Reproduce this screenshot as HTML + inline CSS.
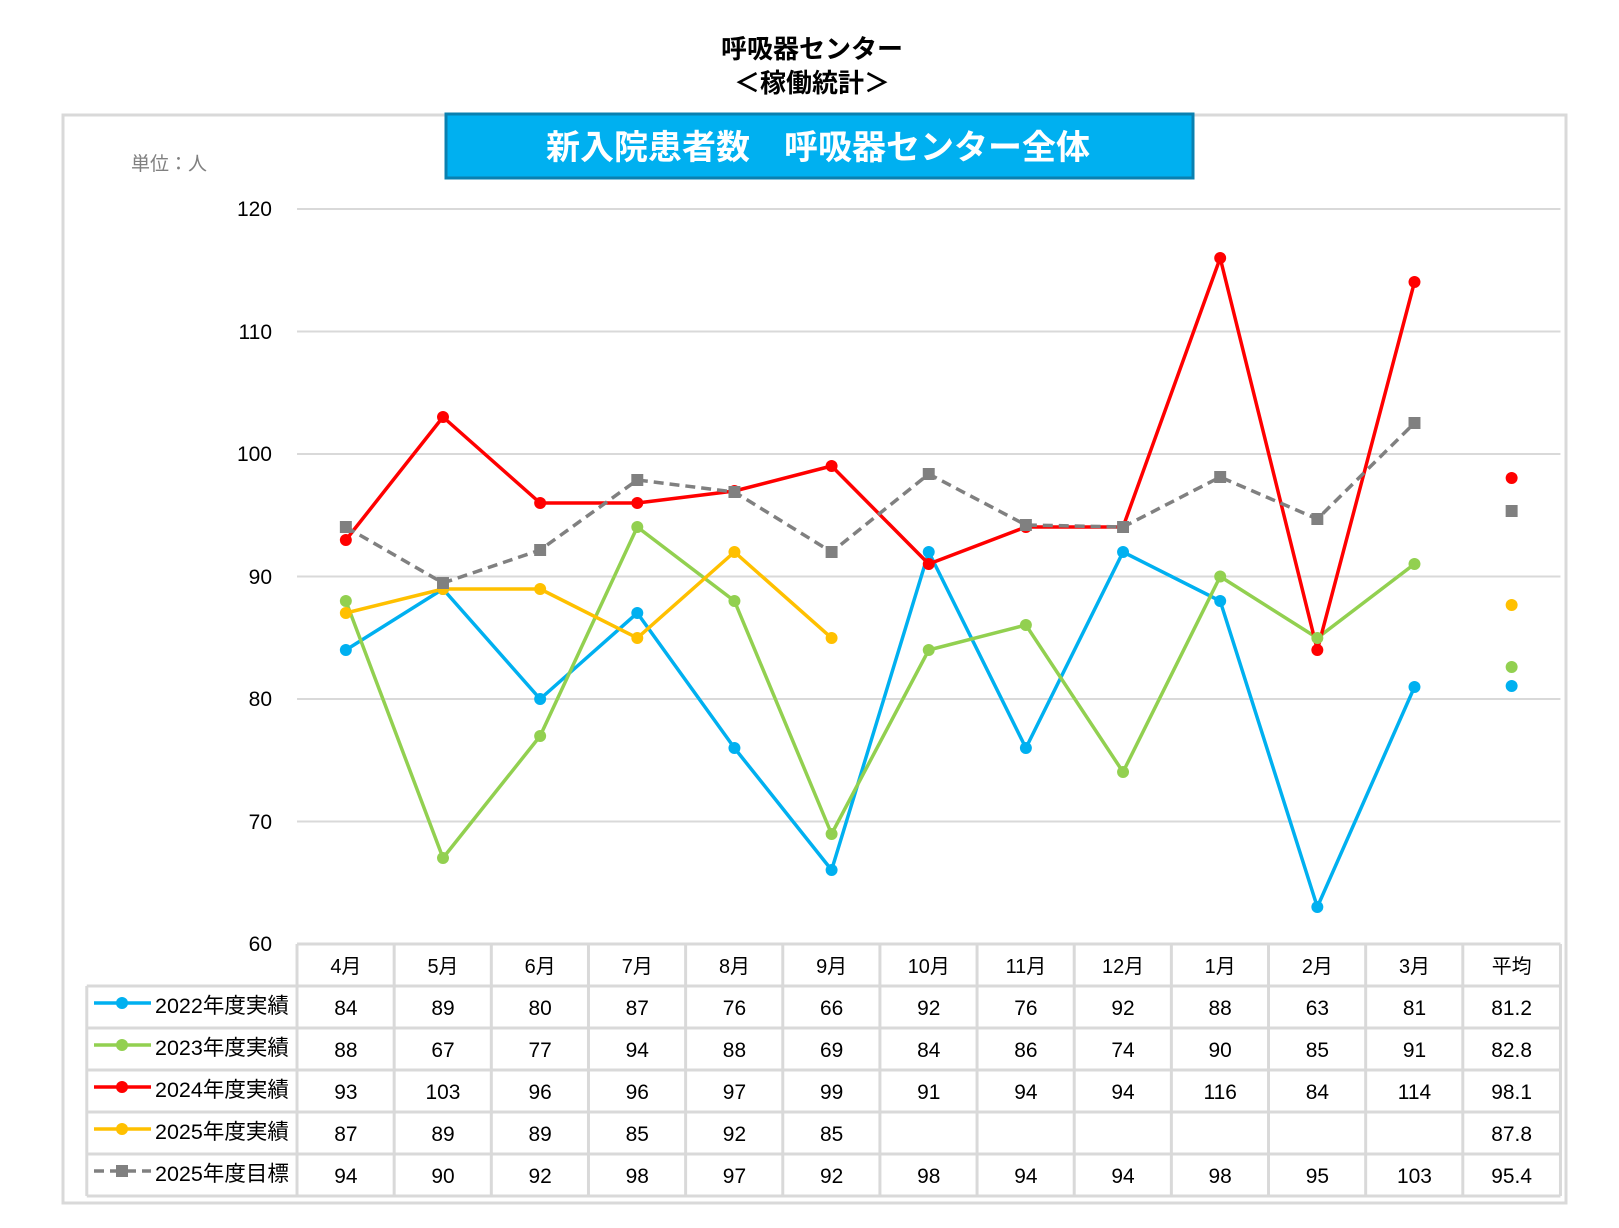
<!DOCTYPE html>
<html><head><meta charset="utf-8">
<style>
html,body{margin:0;padding:0;background:#fff;}
svg{display:block;}
text{font-family:"Liberation Sans","Noto Sans CJK JP",sans-serif;}
</style></head><body>
<svg width="1619" height="1228" viewBox="0 0 1619 1228" xmlns="http://www.w3.org/2000/svg">
<rect width="1619" height="1228" fill="#fff"/>
<text x="812" y="58" font-size="26" font-weight="bold" text-anchor="middle" fill="#000">呼吸器センター</text>
<text x="812" y="92" font-size="26" font-weight="bold" text-anchor="middle" fill="#000">＜稼働統計＞</text>
<rect x="63" y="115" width="1503" height="1088" fill="none" stroke="#d9d9d9" stroke-width="3"/>
<rect x="446" y="114" width="747" height="64" fill="#00b0f0" stroke="#0a80b0" stroke-width="3"/>
<text x="818" y="159" font-size="34" font-weight="bold" text-anchor="middle" fill="#fff">新入院患者数　呼吸器センター全体</text>
<text x="131" y="170" font-size="19" fill="#808080">単位：人</text>
<g font-size="21" text-anchor="end" fill="#000">
<text x="272" y="216">120</text><text x="272" y="339">110</text><text x="272" y="461">100</text>
<text x="272" y="584">90</text><text x="272" y="706">80</text><text x="272" y="829">70</text><text x="272" y="951">60</text>
</g>
<g transform="translate(-0.9,0) scale(0.9964,1)">
<g stroke="#d9d9d9" stroke-width="2">
<line x1="299" y1="209" x2="1567" y2="209"/>
<line x1="299" y1="331.5" x2="1567" y2="331.5"/>
<line x1="299" y1="454" x2="1567" y2="454"/>
<line x1="299" y1="576.5" x2="1567" y2="576.5"/>
<line x1="299" y1="699" x2="1567" y2="699"/>
<line x1="299" y1="821.5" x2="1567" y2="821.5"/>
</g>
<g fill="none" stroke-width="3.5" stroke-linejoin="round">
<polyline stroke="#00b0f0" points="348,650 445.5,589 543,699 640.5,613 738,748 835.5,870 933,552 1030.5,748 1128,552 1225.5,601 1323,907 1420.5,687"/>
<polyline stroke="#92d050" points="348,601 445.5,858 543,736 640.5,527 738,601 835.5,834 933,650 1030.5,625 1128,772 1225.5,576.5 1323,638 1420.5,564"/>
<polyline stroke="#ff0000" points="348,540 445.5,417 543,503 640.5,503 738,491 835.5,466 933,564 1030.5,527 1128,527 1225.5,258 1323,650 1420.5,282"/>
<polyline stroke="#ffc000" points="348,613 445.5,589 543,589 640.5,638 738,552 835.5,638"/>
<polyline stroke="#808080" stroke-dasharray="10,6" points="348,527 445.5,583 543,550 640.5,480 738,492 835.5,552 933,474 1030.5,525 1128,527 1225.5,477 1323,519 1420.5,423"/>
</g>
<g fill="#00b0f0"><circle cx="348" cy="650" r="6"/><circle cx="445.5" cy="589" r="6"/><circle cx="543" cy="699" r="6"/><circle cx="640.5" cy="613" r="6"/><circle cx="738" cy="748" r="6"/><circle cx="835.5" cy="870" r="6"/><circle cx="933" cy="552" r="6"/><circle cx="1030.5" cy="748" r="6"/><circle cx="1128" cy="552" r="6"/><circle cx="1225.5" cy="601" r="6"/><circle cx="1323" cy="907" r="6"/><circle cx="1420.5" cy="687" r="6"/><circle cx="1518" cy="686" r="6"/></g>
<g fill="#92d050"><circle cx="348" cy="601" r="6"/><circle cx="445.5" cy="858" r="6"/><circle cx="543" cy="736" r="6"/><circle cx="640.5" cy="527" r="6"/><circle cx="738" cy="601" r="6"/><circle cx="835.5" cy="834" r="6"/><circle cx="933" cy="650" r="6"/><circle cx="1030.5" cy="625" r="6"/><circle cx="1128" cy="772" r="6"/><circle cx="1225.5" cy="576.5" r="6"/><circle cx="1323" cy="638" r="6"/><circle cx="1420.5" cy="564" r="6"/><circle cx="1518" cy="667" r="6"/></g>
<g fill="#ff0000"><circle cx="348" cy="540" r="6"/><circle cx="445.5" cy="417" r="6"/><circle cx="543" cy="503" r="6"/><circle cx="640.5" cy="503" r="6"/><circle cx="738" cy="491" r="6"/><circle cx="835.5" cy="466" r="6"/><circle cx="933" cy="564" r="6"/><circle cx="1030.5" cy="527" r="6"/><circle cx="1128" cy="527" r="6"/><circle cx="1225.5" cy="258" r="6"/><circle cx="1323" cy="650" r="6"/><circle cx="1420.5" cy="282" r="6"/><circle cx="1518" cy="478" r="6"/></g>
<g fill="#ffc000"><circle cx="348" cy="613" r="6"/><circle cx="445.5" cy="589" r="6"/><circle cx="543" cy="589" r="6"/><circle cx="640.5" cy="638" r="6"/><circle cx="738" cy="552" r="6"/><circle cx="835.5" cy="638" r="6"/><circle cx="1518" cy="605" r="6"/></g>
<g fill="#808080"><rect x="342" y="521" width="12" height="12"/><rect x="439.5" y="577" width="12" height="12"/><rect x="537" y="544" width="12" height="12"/><rect x="634.5" y="474" width="12" height="12"/><rect x="732" y="486" width="12" height="12"/><rect x="829.5" y="546" width="12" height="12"/><rect x="927" y="468" width="12" height="12"/><rect x="1024.5" y="519" width="12" height="12"/><rect x="1122" y="521" width="12" height="12"/><rect x="1219.5" y="471" width="12" height="12"/><rect x="1317" y="513" width="12" height="12"/><rect x="1414.5" y="417" width="12" height="12"/><rect x="1512" y="505" width="12" height="12"/></g>
<g stroke="#d9d9d9" stroke-width="3" fill="none">
<line x1="299" y1="944" x2="1567" y2="944"/>
<line x1="88" y1="986" x2="1567" y2="986"/>
<line x1="88" y1="1028" x2="1567" y2="1028"/>
<line x1="88" y1="1070" x2="1567" y2="1070"/>
<line x1="88" y1="1112" x2="1567" y2="1112"/>
<line x1="88" y1="1154" x2="1567" y2="1154"/>
<line x1="88" y1="1196" x2="1567" y2="1196"/>
<line x1="88" y1="986" x2="88" y2="1196"/>
<line x1="299" y1="944" x2="299" y2="1196"/><line x1="396.5" y1="944" x2="396.5" y2="1196"/><line x1="494" y1="944" x2="494" y2="1196"/><line x1="591.5" y1="944" x2="591.5" y2="1196"/><line x1="689" y1="944" x2="689" y2="1196"/><line x1="786.5" y1="944" x2="786.5" y2="1196"/><line x1="884" y1="944" x2="884" y2="1196"/><line x1="981.5" y1="944" x2="981.5" y2="1196"/><line x1="1079" y1="944" x2="1079" y2="1196"/><line x1="1176.5" y1="944" x2="1176.5" y2="1196"/><line x1="1274" y1="944" x2="1274" y2="1196"/><line x1="1371.5" y1="944" x2="1371.5" y2="1196"/><line x1="1469" y1="944" x2="1469" y2="1196"/><line x1="1567" y1="944" x2="1567" y2="1196"/>
</g>
<g font-size="20" text-anchor="middle" fill="#000">
<text x="348" y="973">4月</text><text x="445.5" y="973">5月</text><text x="543" y="973">6月</text><text x="640.5" y="973">7月</text><text x="738" y="973">8月</text><text x="835.5" y="973">9月</text><text x="933" y="973">10月</text><text x="1030.5" y="973">11月</text><text x="1128" y="973">12月</text><text x="1225.5" y="973">1月</text><text x="1323" y="973">2月</text><text x="1420.5" y="973">3月</text><text x="1518" y="973">平均</text>
</g>
<g font-size="21" text-anchor="middle" fill="#000">
<text x="348" y="1015">84</text><text x="445.5" y="1015">89</text><text x="543" y="1015">80</text><text x="640.5" y="1015">87</text><text x="738" y="1015">76</text><text x="835.5" y="1015">66</text><text x="933" y="1015">92</text><text x="1030.5" y="1015">76</text><text x="1128" y="1015">92</text><text x="1225.5" y="1015">88</text><text x="1323" y="1015">63</text><text x="1420.5" y="1015">81</text><text x="1518" y="1015">81.2</text>
<text x="348" y="1057">88</text><text x="445.5" y="1057">67</text><text x="543" y="1057">77</text><text x="640.5" y="1057">94</text><text x="738" y="1057">88</text><text x="835.5" y="1057">69</text><text x="933" y="1057">84</text><text x="1030.5" y="1057">86</text><text x="1128" y="1057">74</text><text x="1225.5" y="1057">90</text><text x="1323" y="1057">85</text><text x="1420.5" y="1057">91</text><text x="1518" y="1057">82.8</text>
<text x="348" y="1099">93</text><text x="445.5" y="1099">103</text><text x="543" y="1099">96</text><text x="640.5" y="1099">96</text><text x="738" y="1099">97</text><text x="835.5" y="1099">99</text><text x="933" y="1099">91</text><text x="1030.5" y="1099">94</text><text x="1128" y="1099">94</text><text x="1225.5" y="1099">116</text><text x="1323" y="1099">84</text><text x="1420.5" y="1099">114</text><text x="1518" y="1099">98.1</text>
<text x="348" y="1141">87</text><text x="445.5" y="1141">89</text><text x="543" y="1141">89</text><text x="640.5" y="1141">85</text><text x="738" y="1141">92</text><text x="835.5" y="1141">85</text><text x="1518" y="1141">87.8</text>
<text x="348" y="1183">94</text><text x="445.5" y="1183">90</text><text x="543" y="1183">92</text><text x="640.5" y="1183">98</text><text x="738" y="1183">97</text><text x="835.5" y="1183">92</text><text x="933" y="1183">98</text><text x="1030.5" y="1183">94</text><text x="1128" y="1183">94</text><text x="1225.5" y="1183">98</text><text x="1323" y="1183">95</text><text x="1420.5" y="1183">103</text><text x="1518" y="1183">95.4</text>
</g>
</g>
<g stroke-width="3.5">
<line x1="94" y1="1003" x2="151" y2="1003" stroke="#00b0f0"/><circle cx="122" cy="1003" r="6" fill="#00b0f0"/>
<line x1="94" y1="1045" x2="151" y2="1045" stroke="#92d050"/><circle cx="122" cy="1045" r="6" fill="#92d050"/>
<line x1="94" y1="1087" x2="151" y2="1087" stroke="#ff0000"/><circle cx="122" cy="1087" r="6" fill="#ff0000"/>
<line x1="94" y1="1129" x2="151" y2="1129" stroke="#ffc000"/><circle cx="122" cy="1129" r="6" fill="#ffc000"/>
<line x1="94" y1="1171" x2="151" y2="1171" stroke="#808080" stroke-dasharray="10,6"/><rect x="116" y="1165" width="12" height="12" fill="#808080"/>
</g>
<g font-size="21.5" fill="#000">
<text x="155" y="1013">2022年度実績</text><text x="155" y="1055">2023年度実績</text><text x="155" y="1097">2024年度実績</text><text x="155" y="1139">2025年度実績</text><text x="155" y="1181">2025年度目標</text>
</g>
</svg>
</body></html>
